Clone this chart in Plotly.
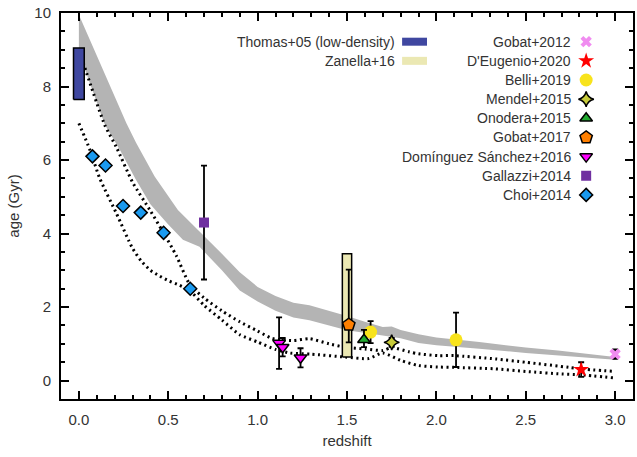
import plotly.graph_objects as go

# ---------------- data ----------------
band_upper_z = [0.0, 0.1, 0.2, 0.266, 0.32, 0.424, 0.554, 0.7, 0.8, 0.9, 1.0, 1.1, 1.2, 1.29, 1.4, 1.5, 1.6, 1.7, 1.75, 1.8, 1.9, 2.0, 2.24, 2.5, 2.68, 3.0]
band_upper_age = [9.95, 8.85, 7.75, 7.0, 6.47, 5.55, 4.64, 3.95, 3.45, 2.95, 2.55, 2.3, 2.12, 2.05, 1.9, 1.76, 1.6, 1.46, 1.47, 1.38, 1.26, 1.17, 1.05, 0.9, 0.82, 0.64]
band_lower_z = [0.0, 0.024, 0.145, 0.229, 0.32, 0.4, 0.5, 0.582, 0.675, 0.8, 0.9, 1.0, 1.1, 1.2, 1.29, 1.4, 1.5, 1.6, 1.7, 1.8, 1.9, 2.0, 2.24, 2.5, 2.68, 3.0]
band_lower_age = [8.9, 8.6, 6.97, 6.28, 5.46, 4.8, 4.25, 3.83, 3.64, 3.0, 2.45, 2.15, 1.9, 1.72, 1.64, 1.5, 1.37, 1.3, 1.23, 1.15, 1.02, 0.96, 0.87, 0.75, 0.68, 0.57]

dotA_z = [0.024, 0.145, 0.21, 0.30, 0.40, 0.47, 0.545, 0.62, 0.7, 0.8, 0.9, 1.0, 1.08, 1.2, 1.29, 1.4, 1.49, 1.6, 1.70, 1.75, 1.85, 1.9, 2.01, 2.1, 2.33, 2.5, 2.74, 2.8, 3.0]
dotA_age = [8.65, 6.95, 6.35, 5.4, 4.62, 4.05, 3.4, 2.62, 2.25, 1.9, 1.6, 1.35, 1.15, 1.09, 1.14, 1.0, 0.91, 0.86, 0.82, 0.9, 0.78, 0.73, 0.68, 0.68, 0.59, 0.5, 0.36, 0.32, 0.25]
dotB_z = [0.0, 0.06, 0.117, 0.21, 0.30, 0.35, 0.40, 0.45, 0.50, 0.56, 0.62, 0.7, 0.8, 0.9, 1.0, 1.1, 1.18, 1.3, 1.49, 1.62, 1.70, 1.8, 1.9, 2.01, 2.1, 2.33, 2.5, 2.7, 2.8, 3.0]
dotB_age = [7.0, 6.3, 5.5, 4.55, 3.6, 3.25, 3.0, 2.85, 2.72, 2.6, 2.45, 2.05, 1.65, 1.25, 1.05, 0.85, 0.75, 0.72, 0.64, 0.6, 0.75, 0.55, 0.41, 0.37, 0.36, 0.32, 0.25, 0.18, 0.16, 0.07]

thomas_z = 0.0
thomas_age_range = [7.65, 9.05]
zanella_z = 1.5
zanella_age_range = [0.64, 3.45]

choi_z = [0.076, 0.149, 0.247, 0.346, 0.474, 0.623]
choi_age = [6.1, 5.85, 4.75, 4.57, 4.02, 2.5]

gallazzi_z = [0.70]
gallazzi_age = [4.3]
gallazzi_err = [1.55]

ds_z = [1.12, 1.14, 1.24]
ds_age = [1.02, 0.91, 0.62]
ds_err = [0.7, 0.25, 0.26]

gobat17_z = [1.51]
gobat17_age = [1.52]
gobat17_errp = [1.5]
gobat17_errm = [0.48]

onodera_z = [1.595]
onodera_age = [1.11]
onodera_errp = [0.27]
onodera_errm = [0.2]

mendel_z = [1.75]
mendel_age = [1.04]
mendel_err = [0.12]

belli_z = [1.632, 2.11]
belli_age = [1.32, 1.11]
belli_err = [0.3, 0.74]

deugenio_z = [2.81]
deugenio_age = [0.30]
deugenio_err = [0.2]

gobat12_z = [3.0]
gobat12_age = [0.72]
gobat12_err = [0.13]

legend_left = ["Thomas+05 (low-density)", "Zanella+16"]
legend_right = ["Gobat+2012", "D'Eugenio+2020", "Belli+2019", "Mendel+2015", "Onodera+2015",
                "Gobat+2017", "Domínguez Sánchez+2016", "Gallazzi+2014", "Choi+2014"]

xticks = [0.0, 0.5, 1.0, 1.5, 2.0, 2.5, 3.0]
xticklabels = ["0.0", "0.5", "1.0", "1.5", "2.0", "2.5", "3.0"]
yticks = [0, 2, 4, 6, 8, 10]

# ---------------- styles ----------------
FONT = "Liberation Sans, Arial, Helvetica, sans-serif"
TXT = "#333333"
W, H = 637, 457
ML, MR, MT, MB = 61, 2, 13, 58
PW, PH = W - ML - MR, H - MT - MB

band_color = "#b4b4b4"
thomas_color = "#3f47a0"
zanella_color = "#ebe8b3"

styles = {
    "Gobat+2012": dict(symbol="x", size=10, color="#f08cf0", line=dict(width=0)),
    "D'Eugenio+2020": dict(symbol="star", size=12, color="#ff0000", line=dict(width=0)),
    "Belli+2019": dict(symbol="circle", size=13, color="#f8e31c", line=dict(width=0)),
    "Mendel+2015": dict(symbol="star-diamond", size=11, color="#c8cc3a", line=dict(width=1.5, color="black")),
    "Onodera+2015": dict(symbol="triangle-up", size=11, color="#22aa30", line=dict(width=1.5, color="black")),
    "Gobat+2017": dict(symbol="pentagon", size=13, color="#ff7f00", line=dict(width=1.5, color="black")),
    "Domínguez Sánchez+2016": dict(symbol="triangle-down", size=11, color="#ff00ff", line=dict(width=1.5, color="black")),
    "Gallazzi+2014": dict(symbol="square", size=10, color="#7030a0", line=dict(width=0)),
    "Choi+2014": dict(symbol="diamond", size=10, color="#1a9af0", line=dict(width=1.5, color="black")),
}

def err(plus, minus=None):
    d = dict(type="data", array=plus, color="black", thickness=1.8, width=3)
    if minus is not None:
        d["arrayminus"] = minus
        d["symmetric"] = False
    return d

fig = go.Figure()

# grey band
fig.add_trace(go.Scatter(
    x=band_upper_z + band_lower_z[::-1], y=band_upper_age + band_lower_age[::-1],
    fill="toself", fillcolor=band_color, mode="lines", line=dict(width=0),
    hoverinfo="skip", showlegend=False))

# dotted lines
for zz, aa in [(dotA_z, dotA_age), (dotB_z, dotB_age)]:
    fig.add_trace(go.Scatter(x=zz, y=aa, mode="lines", line_shape="spline",
                             line=dict(color="black", width=3, dash="2px,3.5px", smoothing=0.6),
                             hoverinfo="skip", showlegend=False))

# rectangles (Thomas+05, Zanella+16)
def rect(zc, rng, hw, color):
    x0, x1 = zc - hw, zc + hw
    fig.add_trace(go.Scatter(x=[x0, x1, x1, x0, x0], y=[rng[0], rng[0], rng[1], rng[1], rng[0]],
                             fill="toself", fillcolor=color, mode="lines",
                             line=dict(color="black", width=1.5), hoverinfo="skip", showlegend=False))

rect(thomas_z, thomas_age_range, 0.03, thomas_color)
rect(zanella_z, zanella_age_range, 0.026, zanella_color)

def pts(name, z, a, e=None):
    s = styles[name]
    fig.add_trace(go.Scatter(x=z, y=a, mode="markers", marker=s, error_y=e,
                             name=name, showlegend=False))

pts("Choi+2014", choi_z, choi_age)
pts("Gallazzi+2014", gallazzi_z, gallazzi_age, err(gallazzi_err))
pts("Domínguez Sánchez+2016", ds_z, ds_age, err(ds_err))
pts("Belli+2019", belli_z, belli_age, err(belli_err))
pts("Gobat+2017", gobat17_z, gobat17_age, err(gobat17_errp, gobat17_errm))
pts("Onodera+2015", onodera_z, onodera_age, err(onodera_errp, onodera_errm))
pts("Mendel+2015", mendel_z, mendel_age, err(mendel_err))
pts("D'Eugenio+2020", deugenio_z, deugenio_age, err(deugenio_err))
pts("Gobat+2012", gobat12_z, gobat12_age, err(gobat12_err))

# ---------------- custom legend (pixel coords inside plot area) ----------------
row0, step = 28.7, 19.15
sym_x, txt_x = 527, 514
for i, name in enumerate(legend_right):
    y = row0 + i * step
    fig.add_trace(go.Scatter(x=[sym_x], y=[y], mode="markers", marker=styles[name],
                             xaxis="x2", yaxis="y2", hoverinfo="skip", showlegend=False))
    fig.add_annotation(x=txt_x, y=y, xref="x2", yref="y2", text=name, showarrow=False,
                       xanchor="right", yanchor="middle", font=dict(family=FONT, size=14, color=TXT))

lrect_x0, lrect_x1, ltxt_x = 342.3, 367.3, 337.3
for i, (name, col) in enumerate(zip(legend_left, [thomas_color, zanella_color])):
    y = row0 + i * step
    fig.add_shape(type="rect", xref="x2", yref="y2", x0=lrect_x0, x1=lrect_x1, y0=y - 4, y1=y + 4,
                  fillcolor=col, line=dict(width=0))
    fig.add_annotation(x=ltxt_x, y=y, xref="x2", yref="y2", text=name, showarrow=False,
                       xanchor="right", yanchor="middle", font=dict(family=FONT, size=14, color=TXT))

axis_common = dict(showline=True, linewidth=2, linecolor="black", mirror="allticks",
                   ticks="inside", ticklen=8, tickwidth=1.5, tickcolor="black",
                   showgrid=False, zeroline=False,
                   tickfont=dict(family=FONT, size=15, color=TXT))

fig.update_layout(
    width=W, height=H,
    margin=dict(l=ML, r=MR, t=MT, b=MB),
    plot_bgcolor="white", paper_bgcolor="white",
    showlegend=False,
    xaxis=dict(range=[-0.1, 3.1], tickvals=xticks, ticktext=xticklabels,
               minor=dict(dtick=0.1, ticks="inside", ticklen=4, tickwidth=1.5, tickcolor="black"),
               title=dict(text="redshift", font=dict(family=FONT, size=15, color=TXT), standoff=8),
               ticklabelstandoff=6, **axis_common),
    yaxis=dict(range=[-0.5, 10], tickvals=yticks,
               minor=dict(dtick=0.5, ticks="inside", ticklen=4, tickwidth=1.5, tickcolor="black"),
               title=dict(text="age (Gyr)", font=dict(family=FONT, size=15, color=TXT), standoff=11),
               ticklabelstandoff=5, **axis_common),
    xaxis2=dict(range=[0, PW], overlaying="x", visible=False, anchor="y2", domain=[0, 1]),
    yaxis2=dict(range=[PH, 0], overlaying="y", visible=False, anchor="x2", domain=[0, 1]),
)

fig.write_html("out.html")
